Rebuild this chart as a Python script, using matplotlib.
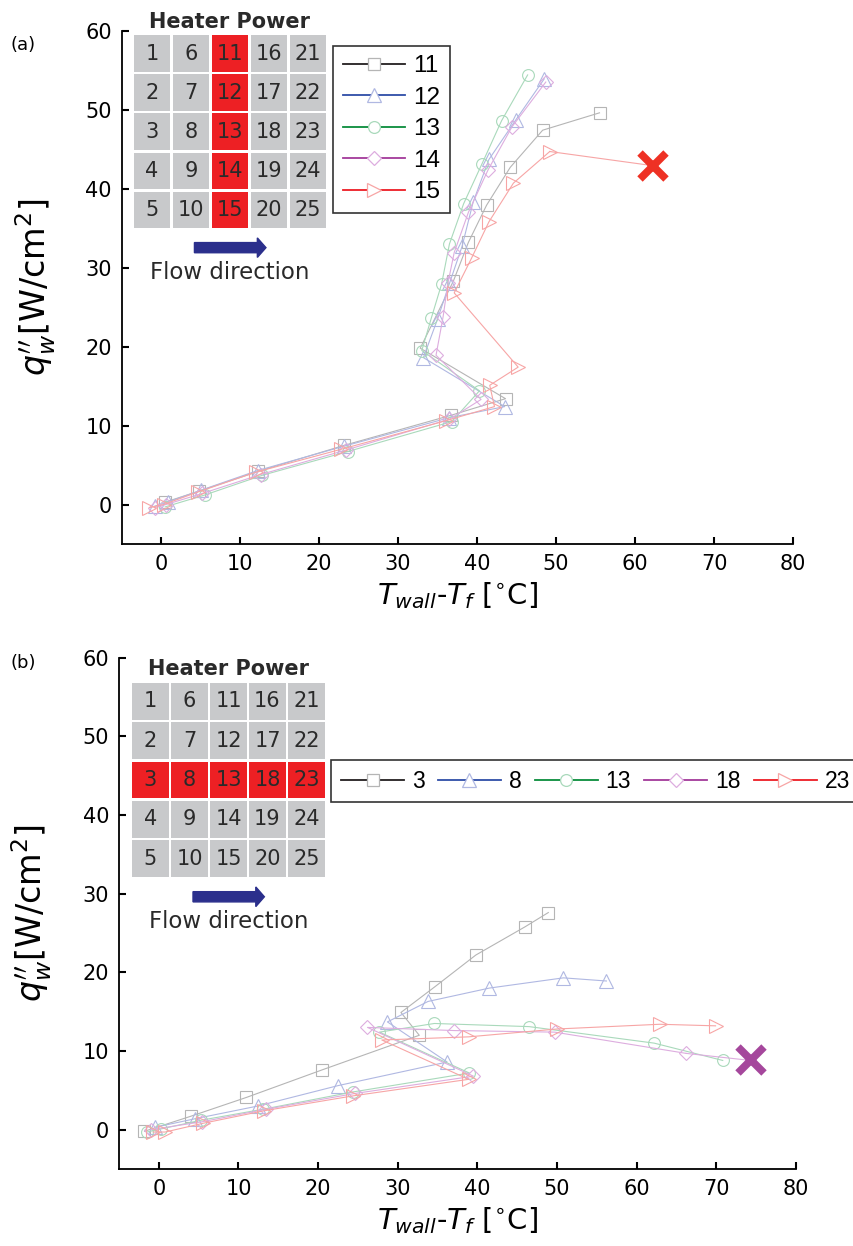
import matplotlib
matplotlib.use("Agg")
import matplotlib.pyplot as plt
from matplotlib.lines import Line2D
from matplotlib.patches import Rectangle

# ---- panel (a): heaters 11-15 powered (one column) ----
a_labels = ["11", "12", "13", "14", "15"]
a_x = [
    [0.5, 4.8, 12.3, 23.2, 36.7, 43.6, 32.8, 37.0, 38.9, 41.2, 44.2, 48.3, 55.5],
    [-0.8, 0.8, 5.0, 12.2, 23.2, 36.5, 43.5, 33.2, 35.0, 36.5, 38.1, 39.5, 41.5, 44.9, 48.5],
    [0.5, 5.5, 12.8, 23.6, 36.8, 40.3, 33.0, 34.2, 35.5, 36.5, 38.3, 40.6, 43.1, 46.4],
    [-0.8, 0.6, 5.2, 12.6, 23.4, 36.5, 40.5, 34.8, 35.7, 36.3, 37.1, 38.9, 41.4, 44.4, 48.7],
    [-1.5, 0.3, 4.7, 12.0, 22.8, 36.0, 42.2, 41.6, 45.2, 37.1, 39.3, 41.5, 44.6, 49.2],
]
a_y = [
    [0.3, 1.7, 4.2, 7.5, 11.3, 13.4, 19.8, 28.3, 33.2, 37.9, 42.7, 47.4, 49.6],
    [-0.2, 0.3, 1.8, 4.3, 7.4, 11.0, 12.4, 18.6, 23.5, 28.0, 32.7, 38.3, 43.7, 48.7, 53.9],
    [-0.3, 1.2, 3.7, 6.7, 10.5, 14.4, 19.5, 23.6, 27.9, 33.0, 38.1, 43.1, 48.6, 54.4],
    [-0.4, 0.0, 1.4, 3.8, 6.9, 10.8, 13.3, 18.9, 23.8, 28.0, 31.9, 37.0, 42.4, 47.8, 53.5],
    [-0.4, 0.0, 1.6, 4.1, 7.0, 10.6, 12.4, 15.1, 17.4, 26.8, 31.2, 35.8, 40.7, 44.7],
]
a_chf_series = 4
a_chf = (62.3, 42.9)
a_heated = [11, 12, 13, 14, 15]

# ---- panel (b): heaters 3, 8, 13, 18, 23 powered (one row) ----
b_labels = ["3", "8", "13", "18", "23"]
b_x = [
    [-1.8, 4.0, 11.0, 20.5, 32.7, 30.4, 34.7, 39.8, 46.0, 48.9],
    [-0.5, 4.6, 12.4, 22.5, 36.2, 28.7, 33.8, 41.5, 50.8, 56.2],
    [-1.5, 0.3, 5.3, 13.1, 24.4, 39.0, 27.7, 34.6, 46.5, 62.2, 70.8],
    [-1.0, 5.4, 13.5, 24.6, 39.5, 26.2, 37.1, 49.7, 66.2],
    [-0.7, 0.8, 5.5, 13.2, 24.4, 38.9, 28.0, 38.9, 50.0, 62.9, 69.9],
]
b_y = [
    [-0.2, 1.7, 4.1, 7.6, 12.0, 14.9, 18.2, 22.2, 25.8, 27.6],
    [0.3, 1.4, 3.0, 5.6, 8.6, 13.7, 16.3, 18.0, 19.3, 18.9],
    [-0.3, 0.1, 1.2, 2.6, 4.8, 7.2, 12.4, 13.5, 13.1, 11.0, 8.8],
    [0.0, 1.0, 2.6, 4.6, 6.8, 13.0, 12.6, 12.4, 9.7],
    [-0.3, -0.3, 0.8, 2.4, 4.3, 6.4, 11.4, 11.8, 12.8, 13.4, 13.2],
]
b_chf_series = 3
b_chf = (74.3, 8.8)
b_heated = [3, 8, 13, 18, 23]

x_ticks = [0, 10, 20, 30, 40, 50, 60, 70, 80]
y_ticks = [0, 10, 20, 30, 40, 50, 60]

# styles
markers = ["s", "^", "o", "D", ">"]
msizes = [9, 10, 8.5, 7, 10]
dark = ["#231F20", "#2E4DA7", "#0A8C3C", "#A2399A", "#ED1C24"]
pale = ["#B5B5B5", "#B0B8E2", "#A9D9BB", "#DDADDF", "#F7A5A5"]
chf_colors = ["#EE3124", "#A5479C"]

W, H = 854, 1246
fig = plt.figure(figsize=(W / 100, H / 100), dpi=100)


def fx(px):
    return px / W


def fy(py):
    return 1 - py / H


def draw_panel(box, xs, ys, chf_idx, chf, chf_col):
    left, top, right, bottom = box
    ax = fig.add_axes([fx(left), fy(bottom), fx(right - left), (bottom - top) / H])
    for i in range(len(xs)):
        xx, yy = list(xs[i]), list(ys[i])
        ax.plot(xx, yy, color=pale[i], lw=0.8, marker=markers[i], ms=msizes[i],
                mfc="none", mec=pale[i], mew=0.8, zorder=3)
        if i == chf_idx:
            # line from the last point to the CHF mark
            ax.plot([xx[-1], chf[0]], [yy[-1], chf[1]], color=pale[i], lw=0.8, zorder=3)
    ax.plot([chf[0]], [chf[1]], marker="x", ms=19, mew=5.5, color=chf_col, zorder=4)

    ax.set_xlim(-5, 80)
    ax.set_ylim(-5, 60)
    ax.set_xticks(x_ticks)
    ax.set_yticks(y_ticks)
    for s in ["top", "right"]:
        ax.spines[s].set_visible(False)
    for s in ["left", "bottom"]:
        ax.spines[s].set_linewidth(1.3)
    ax.tick_params(direction="in", length=5, width=1.5, labelsize=15, pad=7)

    ax.set_xlabel(r"$T_{wall}$-$T_f$ [$^{\circ}$C]", fontsize=21)
    ax.xaxis.set_label_coords(0.5, -0.07)
    ax.xaxis.label.set_va("top")
    ax.set_ylabel(r"$q^{\prime\prime}_w$[W/cm$^2$]", fontsize=24)
    ax.yaxis.set_label_coords(-0.128, 0.5)
    ax.yaxis.label.set_va("center")
    return ax


def legend_handles():
    hs = []
    for i in range(5):
        hs.append(Line2D([], [], color=dark[i], lw=1.3, marker=markers[i], ms=msizes[i],
                         mfc="white", mec=pale[i], mew=0.9))
    return hs


def draw_grid(box, heated):
    left, top, right, bottom = box
    g = fig.add_axes([fx(left), fy(bottom), fx(right - left), (bottom - top) / H])
    g.set_xlim(0, 5)
    g.set_ylim(0, 5)
    g.axis("off")
    gap = 0.07
    for c in range(5):
        for r in range(5):
            n = c * 5 + r + 1
            col = "#ED2024" if n in heated else "#C8C9CB"
            g.add_patch(Rectangle((c + gap / 2, 4 - r + gap / 2), 1 - gap, 1 - gap,
                                  facecolor=col, edgecolor="none"))
            g.text(c + 0.5, 4.5 - r, str(n), ha="center", va="center",
                   fontsize=15, color="#2A2A2A")
    g.text(2.5, 5.32, "Heater Power", ha="center", va="center", fontsize=15,
           fontweight="bold", color="#2A2A2A")
    g.arrow(1.59, -0.47, 1.83, 0, width=0.26, head_width=0.5, head_length=0.22,
            length_includes_head=True, color="#2B2F8C", clip_on=False)
    g.text(2.5, -1.1, "Flow direction", ha="center", va="center", fontsize=16.5,
           color="#2A2A2A")
    return g


# panel (a)
ax1 = draw_panel((121.7, 30.7, 793, 544), a_x, a_y, a_chf_series, a_chf, chf_colors[0])
leg1 = ax1.legend(legend_handles(), a_labels, loc="upper left",
                  bbox_to_anchor=(fx(333.3), fy(45.7)), bbox_transform=fig.transFigure,
                  prop={"family": "Liberation Sans", "size": 17.5},
                  frameon=True, fancybox=False, borderpad=0.4,
                  handlelength=2.55, handletextpad=0.35, labelspacing=0.39, borderaxespad=0)
leg1.get_frame().set_edgecolor("black")
leg1.get_frame().set_linewidth(1.2)
draw_grid((132.3, 34, 327.7, 229.3), a_heated)
fig.text(fx(10), fy(45), "(a)", fontsize=13, va="center")

# panel (b)
ax2 = draw_panel((119, 657.7, 796, 1169), b_x, b_y, b_chf_series, b_chf, chf_colors[1])
leg2 = ax2.legend(legend_handles(), b_labels, loc="upper left", ncol=5,
                  bbox_to_anchor=(fx(331.3), fy(759.9)), bbox_transform=fig.transFigure,
                  prop={"family": "Liberation Sans", "size": 16.5},
                  frameon=True, fancybox=False, borderpad=0.42,
                  handlelength=2.76, handletextpad=0.33, columnspacing=0.58, borderaxespad=0)
leg2.get_frame().set_edgecolor("black")
leg2.get_frame().set_linewidth(1.2)
draw_grid((131, 681.7, 326, 878.3), b_heated)
fig.text(fx(10), fy(663), "(b)", fontsize=13, va="center")

fig.savefig("out.png", dpi=100)
